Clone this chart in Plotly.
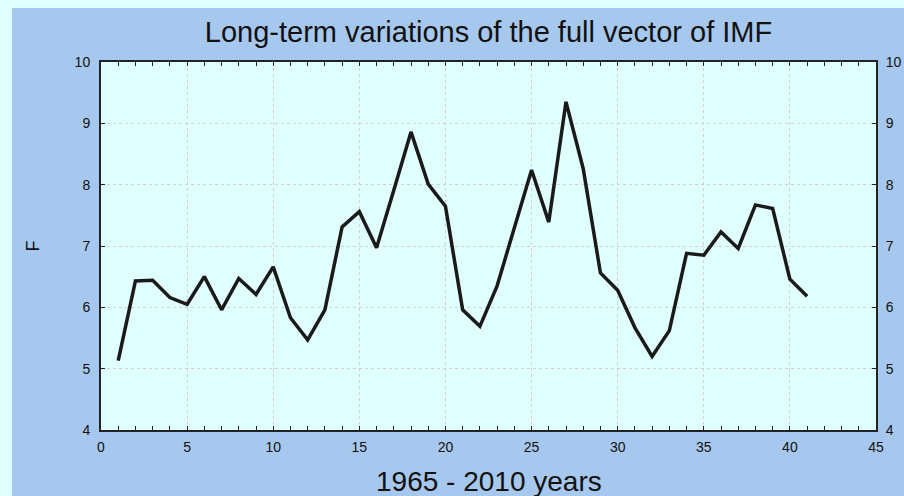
import plotly.graph_objects as go

x_years = list(range(1, 42))
f_values = [5.13, 6.43, 6.44, 6.16, 6.05, 6.50, 5.96, 6.47, 6.21, 6.66,
            5.83, 5.47, 5.96, 7.31, 7.56, 6.97, 7.91, 8.86, 8.01, 7.65,
            5.96, 5.69, 6.35, 7.29, 8.24, 7.39, 9.35, 8.26, 6.56, 6.28,
            5.67, 5.20, 5.62, 6.88, 6.85, 7.23, 6.96, 7.67, 7.61, 6.46,
            6.18]

title_text = "Long-term variations of the full vector of IMF"
x_title = "1965 - 2010 years"
y_title = "F"

FONT = "Liberation Sans, Arial, sans-serif"
BLUE = "#A6C8EE"
CYAN = "#E0FFFF"

fig = go.Figure()
fig.add_trace(go.Scatter(x=x_years, y=f_values, mode="lines",
                         line=dict(color="#1a1a1a", width=3.5),
                         showlegend=False, hoverinfo="skip"))
fig.add_trace(go.Scatter(x=x_years, y=f_values, mode="lines", yaxis="y2",
                         line=dict(color="rgba(0,0,0,0)", width=0),
                         showlegend=False, hoverinfo="skip"))

L, R, T, B = 101, 28, 62, 66
W, H = 904, 496
pw, ph = W - L - R, H - T - B

axis_common = dict(showline=True, linecolor="#222", linewidth=2,
                   ticks="inside", ticklen=4, tickcolor="#222",
                   tickfont=dict(family=FONT, size=14, color="#111"),
                   zeroline=False, automargin=False)

fig.update_layout(
    width=W, height=H,
    margin=dict(l=L, r=R, t=T, b=B, autoexpand=False),
    paper_bgcolor=BLUE,
    plot_bgcolor=CYAN,
    title=dict(text=title_text, x=0.5, xref="paper", xanchor="center",
               y=1 - 32 / H, yref="container", yanchor="middle",
               font=dict(family=FONT, size=29, color="#111")),
    xaxis=dict(range=[0, 45], dtick=5, tick0=0, mirror="allticks",
               showgrid=True, gridcolor="#d0d0d0", griddash="dot", gridwidth=1,
               minor=dict(dtick=1, ticks="inside", ticklen=4, tickcolor="#222", showgrid=False),
               ticklabelstandoff=3,
               **axis_common),
    yaxis=dict(range=[4, 10], dtick=1, tick0=4, mirror=True,
               showgrid=True, gridcolor="#d0d0d0", griddash="dot", gridwidth=1,
               ticklabelstandoff=6,
               title=dict(text=y_title, standoff=30,
                          font=dict(family=FONT, size=18, color="#111")),
               **axis_common),
    yaxis2=dict(range=[4, 10], dtick=1, tick0=4, overlaying="y", side="right",
                showgrid=False, ticklabelstandoff=5, **axis_common),
    annotations=[
        dict(text=x_title, xref="paper", yref="paper", x=0.5, y=-(481 - (H - B)) / ph,
             xanchor="center", yanchor="middle", showarrow=False,
             font=dict(family=FONT, size=28, color="#111")),
    ],
    shapes=[
        dict(type="rect", xref="paper", yref="paper", layer="below",
             x0=-0.3, x1=(12 - L) / pw, y0=-0.3, y1=1.3,
             fillcolor=CYAN, line=dict(width=0)),
        dict(type="rect", xref="paper", yref="paper", layer="below",
             x0=-0.3, x1=1.3, y0=(H - B - 8) / ph, y1=1.3,
             fillcolor=CYAN, line=dict(width=0)),
    ],
)

fig.write_html("out.html", config={"displayModeBar": False},
               post_script="document.body.style.margin='0';document.body.style.overflow='hidden';")
